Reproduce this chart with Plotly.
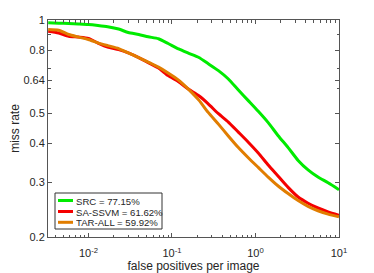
import plotly.graph_objects as go

# ---- data ----
fppi = [0.0033, 0.0044, 0.0058, 0.0076, 0.01, 0.013, 0.017, 0.023, 0.030, 0.040,
        0.052, 0.069, 0.090, 0.12, 0.157, 0.21, 0.27, 0.36, 0.47, 0.62,
        0.82, 1.08, 1.42, 1.87, 2.46, 3.24, 4.26, 5.6, 7.4, 10]
src_miss = [0.979, 0.977, 0.974, 0.971, 0.967, 0.960, 0.951, 0.935, 0.911, 0.898,
            0.883, 0.870, 0.840, 0.807, 0.782, 0.757, 0.724, 0.687, 0.647, 0.596,
            0.550, 0.508, 0.467, 0.424, 0.388, 0.353, 0.329, 0.312, 0.299, 0.284]
sassvm_miss = [0.920, 0.908, 0.887, 0.881, 0.872, 0.843, 0.818, 0.803, 0.784, 0.757,
               0.729, 0.700, 0.662, 0.633, 0.599, 0.570, 0.538, 0.499, 0.470, 0.436,
               0.404, 0.373, 0.341, 0.314, 0.289, 0.269, 0.257, 0.248, 0.241, 0.235]
tarall_miss = [0.932, 0.927, 0.898, 0.881, 0.865, 0.844, 0.827, 0.809, 0.784, 0.757,
               0.732, 0.705, 0.675, 0.640, 0.599, 0.552, 0.505, 0.462, 0.424, 0.389,
               0.360, 0.335, 0.312, 0.292, 0.276, 0.262, 0.251, 0.243, 0.237, 0.2325]

names = ["SRC = 77.15%", "SA-SSVM = 61.62%", "TAR-ALL = 59.92%"]
colors = ["rgb(0,235,0)", "rgb(245,0,0)", "rgb(225,125,0)"]
series = [src_miss, sassvm_miss, tarall_miss]

x_tickvals = [0.01, 0.1, 1, 10]
x_ticktext = ["10<sup>-2</sup>", "10<sup>-1</sup>", "10<sup>0</sup>", "10<sup>1</sup>"]
x_minor = [0.004, 0.005, 0.006, 0.007, 0.008, 0.009] + \
          [m * d for d in (0.01, 0.1, 1) for m in range(2, 10)]
y_tickvals = [0.2, 0.3, 0.4, 0.5, 0.64, 0.8, 1]
y_ticktext = ["0.2", "0.3", "0.4", "0.5", "0.64", "0.8", "1"]
y_minor = [0.6, 0.7, 0.9]

FONT = "Liberation Sans, Arial, sans-serif"
TXT = "#262626"
AX = "#555555"

# page has an 8px body margin; size the figure to compensate
OFF = 8
FW, FH = 374 - OFF, 273 - OFF
L, R, T, B = 40, 35, 12, 36
W, H = FW - L - R, FH - T - B


def px2paper(px, py):
    fx, fy = px - OFF, py - OFF
    return (fx - L) / W, (FH - B - fy) / H


fig = go.Figure()
for name, ys, c in zip(names, series, colors):
    fig.add_trace(go.Scatter(x=fppi, y=ys, mode="lines", name=name,
                             line=dict(color=c, width=3, shape="spline", smoothing=0.6),
                             showlegend=False))

# manual legend (compact rows like the reference)
x0, y0 = px2paper(55, 229)
x1, y1 = px2paper(162, 193)
fig.add_shape(type="rect", xref="paper", yref="paper", x0=x0, y0=y0, x1=x1, y1=y1,
              line=dict(color="#333333", width=1), fillcolor="white", layer="above")
rows_py = [200.5, 211.5, 222.3]
for name, c, py in zip(names, colors, rows_py):
    lx0, ly = px2paper(58, py)
    lx1, _ = px2paper(73, py)
    tx, _ = px2paper(74.5, py)
    fig.add_shape(type="line", xref="paper", yref="paper", x0=lx0, x1=lx1, y0=ly, y1=ly,
                  line=dict(color=c, width=3), layer="above")
    fig.add_annotation(xref="paper", yref="paper", x=tx, y=ly, text=name,
                       showarrow=False, xanchor="left", yanchor="middle",
                       height=10, valign="middle", borderpad=0,
                       font=dict(family=FONT, size=9.6, color=TXT))

fig.update_xaxes(type="log", range=[-2.484, 1], tickvals=x_tickvals, ticktext=x_ticktext,
                 ticks="inside", ticklen=4, tickcolor=AX, showline=True, linecolor=AX,
                 linewidth=1, mirror="ticks", showgrid=False, zeroline=False,
                 ticklabelstandoff=6, automargin=False,
                 minor=dict(tickvals=x_minor, ticks="inside", ticklen=2.5, tickcolor=AX),
                 tickfont=dict(family=FONT, size=11, color=TXT),
                 title=dict(text="false positives per image", standoff=6,
                            font=dict(family=FONT, size=12, color=TXT)))
fig.update_yaxes(type="log", range=[-0.69897, 0], tickvals=y_tickvals, ticktext=y_ticktext,
                 ticks="inside", ticklen=4, tickcolor=AX, showline=True, linecolor=AX,
                 linewidth=1, mirror="ticks", showgrid=False, zeroline=False,
                 automargin=False,
                 minor=dict(tickvals=y_minor, ticks="inside", ticklen=2.5, tickcolor=AX),
                 tickfont=dict(family=FONT, size=11, color=TXT),
                 title=dict(text="miss rate", standoff=6,
                            font=dict(family=FONT, size=12, color=TXT)))
fig.update_layout(width=FW, height=FH, margin=dict(l=L, r=R, t=T, b=B, autoexpand=False),
                  paper_bgcolor="white", plot_bgcolor="white", showlegend=False)

fig.write_html("out.html")
